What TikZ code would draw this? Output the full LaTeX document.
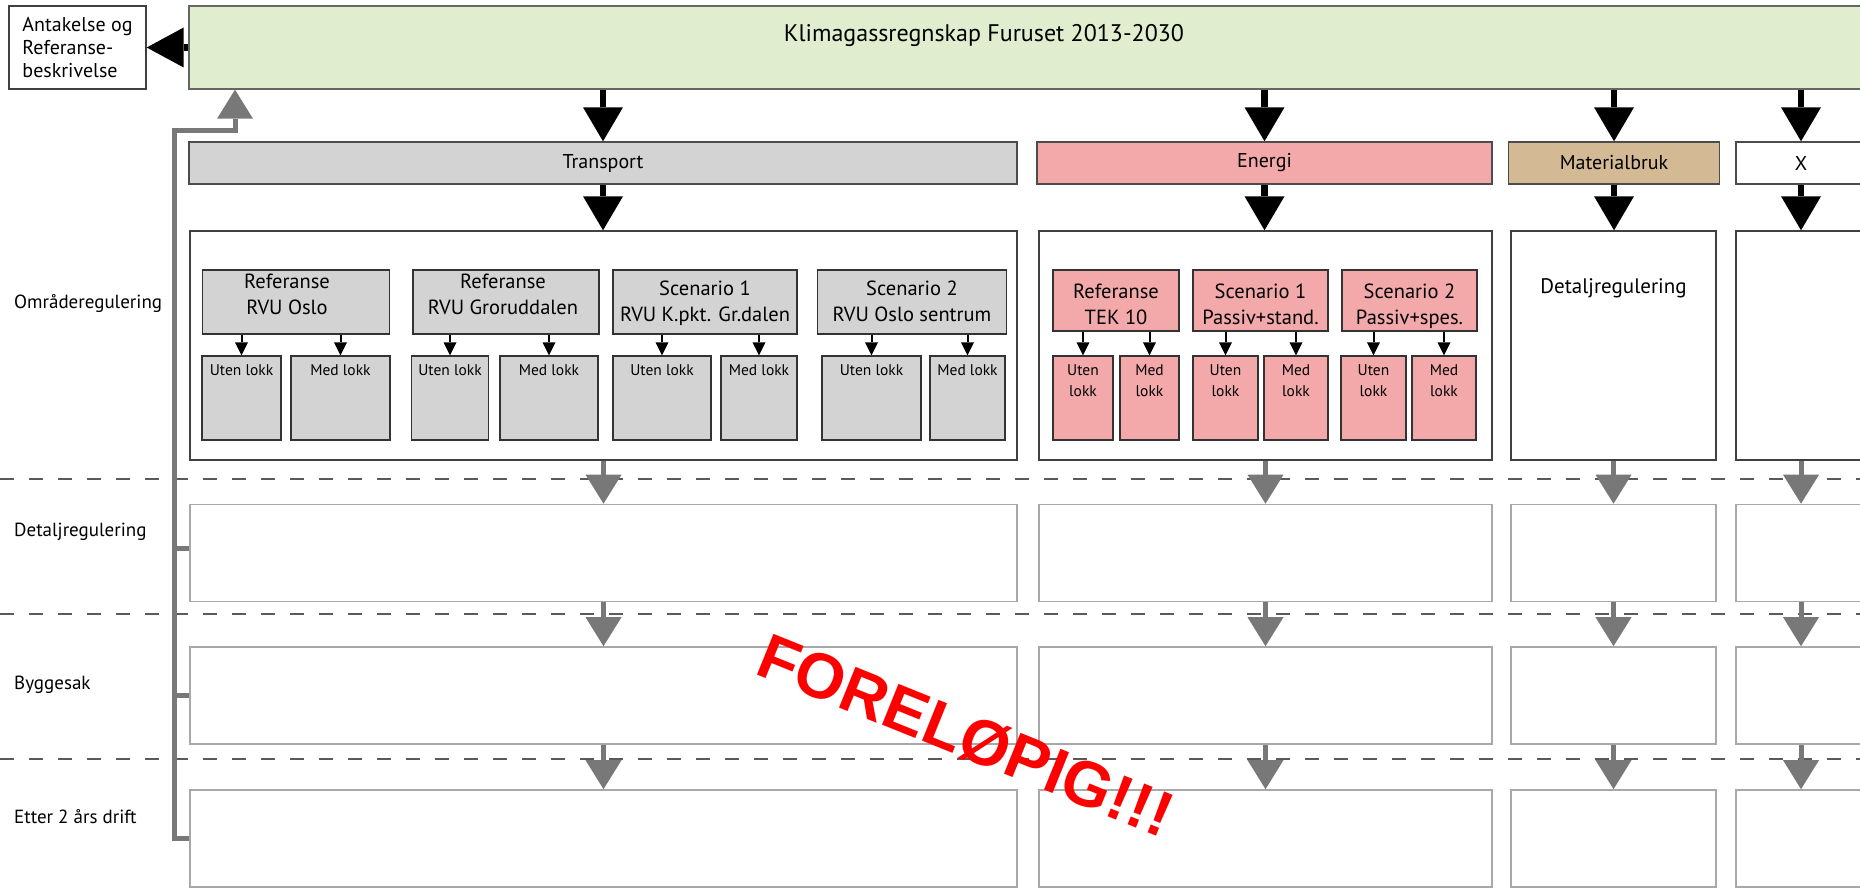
\documentclass[tikz,border=0pt]{standalone}
\usepackage{fontspec}
\setmainfont{PT Sans}
\newfontfamily\stampfont{Liberation Sans}
\usetikzlibrary{arrows.meta}

\definecolor{klimagreen}{HTML}{E0EDCF}
\definecolor{transgray}{HTML}{D3D3D3}
\definecolor{energipink}{HTML}{F3A9AA}
\definecolor{materialtan}{HTML}{D3B994}
\definecolor{flowgray}{HTML}{787878}
\definecolor{rowgray}{HTML}{A8A8A8}
\definecolor{dashgray}{HTML}{5A5A5A}

\tikzset{
  info box/.style={
    draw=black!75, line width=1.4pt, inner sep=0pt,
    minimum width=137pt, minimum height=83pt,
    align=left, font=\fontsize{20}{23}\selectfont,
  },
  title box/.style={
    draw=black!60, line width=1.4pt, fill=klimagreen, inner sep=0pt,
    minimum height=83pt,
  },
  head box/.style={
    draw=black!70, line width=1.4pt, inner sep=0pt,
    minimum height=42pt, font=\fontsize{20}{22}\selectfont,
  },
  col box/.style={
    draw=black!75, line width=1.4pt, inner sep=0pt, minimum height=229pt,
  },
  row box/.style={
    draw=rowgray, line width=1.6pt, inner sep=0pt, minimum height=97pt,
  },
  case box/.style={
    draw=black!80, line width=1.4pt, fill=#1, inner sep=0pt,
  },
  case text/.style={
    inner sep=0pt, align=center, anchor=north,
    font=\fontsize{20.5}{26}\selectfont,
  },
  lokk text/.style={
    inner sep=0pt, align=center, font=\fontsize{15.5}{21}\selectfont,
  },
  phase label/.style={
    inner sep=0pt, anchor=west, font=\fontsize{19}{22}\selectfont,
  },
  phase line/.style={
    draw=dashgray, line width=2pt, dash pattern=on 14pt off 15pt,
  },
  down arrow/.style={
    line width=6.5pt, -{Triangle[width=40pt, length=34pt, line width=0pt]},
  },
  grey arrow/.style={
    draw=flowgray, line width=5pt,
    -{Triangle[width=36pt, length=29pt, line width=0pt]},
  },
  small arrow/.style={
    line width=2pt, -{Triangle[width=13pt, length=13pt, line width=0pt]},
  },
}

\begin{document}
\begin{tikzpicture}[x=1pt, y=-1pt]
      \useasboundingbox (0,0) rectangle (1860,888);
      \clip (0,0) rectangle (1860,888);

      % phase separators
      \draw[phase line] (0,479) -- (1860,479);
      \draw[phase line] (0,614) -- (1860,614);
      \draw[phase line] (0,759) -- (1860,759);

      \node[phase label] (omrLabel)   at (14,304) {Områderegulering};
      \node[phase label] (detLabel)   at (14,532) {Detaljregulering};
      \node[phase label] (byggLabel)  at (14,685) {Byggesak};
      \node[phase label] (etterLabel) at (14,817) {Etter 2 års drift};

      % top
      \node[info box] (antakelse) at (77.5,47.5) {Antakelse og\\Referanse-\\beskrivelse};
      \node[title box, minimum width=1690pt] (klima) at (1034,47.5) {};
      \node[inner sep=0pt, font=\fontsize{24}{28}\selectfont] (klimaTxt) at (984,36)
        {Klimagassregnskap Furuset 2013-2030};

      \node[head box, fill=transgray,   minimum width=828pt] (transport) at (603,163)    {Transport};
      \node[head box, fill=energipink,  minimum width=455pt] (energi)    at (1264.5,163) {Energi};
      \node[head box, fill=materialtan, minimum width=211pt] (material)  at (1614,163)   {Materialbruk};
      \node[head box, fill=white,       minimum width=130pt] (xhead)     at (1801,163)   {X};

      % omraaderegulering
      \node[col box, minimum width=827pt] (transOmr)  at (603.5,345.5)  {};
      \node[col box, minimum width=453pt] (energiOmr) at (1265.5,345.5) {};
      \node[col box, minimum width=205pt] (matOmr)    at (1613.5,345.5) {};
      \node[col box, minimum width=130pt] (xOmr)      at (1801,345.5)   {};
      \node[inner sep=0pt, font=\fontsize{21}{24}\selectfont] (matTxt) at (1613.5,288) {Detaljregulering};

      % detaljregulering, byggesak, drift
      \node[row box, minimum width=827pt] (detT)   at (603.5,553)  {};
      \node[row box, minimum width=453pt] (detE)   at (1265.5,553) {};
      \node[row box, minimum width=205pt] (detM)   at (1613.5,553) {};
      \node[row box, minimum width=130pt] (detX)   at (1801,553)   {};
      \node[row box, minimum width=827pt] (byggT)  at (603.5,695.5)  {};
      \node[row box, minimum width=453pt] (byggE)  at (1265.5,695.5) {};
      \node[row box, minimum width=205pt] (byggM)  at (1613.5,695.5) {};
      \node[row box, minimum width=130pt] (byggX)  at (1801,695.5)   {};
      \node[row box, minimum width=827pt] (etterT) at (603.5,838.5)  {};
      \node[row box, minimum width=453pt] (etterE) at (1265.5,838.5) {};
      \node[row box, minimum width=205pt] (etterM) at (1613.5,838.5) {};
      \node[row box, minimum width=130pt] (etterX) at (1801,838.5)   {};

      % transport cases
      \node[case box=transgray, minimum width=187.5pt, minimum height=64pt] (refOslo)     at (296,302) {};
      \node[case box=transgray, minimum width=186pt,   minimum height=64pt] (refGrorud)   at (506,302) {};
      \node[case box=transgray, minimum width=184pt,   minimum height=64pt] (scenKpkt)    at (705,302) {};
      \node[case box=transgray, minimum width=188.5pt, minimum height=64pt] (scenSentrum) at (912,302) {};
      \node[case text] (refOsloTxt)     at (287,274) {Referanse\\RVU Oslo};
      \node[case text] (refGrorudTxt)   at (503,274) {Referanse\\RVU Groruddalen};
      \node[case text] (scenKpktTxt)    at (705,280.5) {Scenario 1\\RVU K.pkt. Gr.dalen};
      \node[case text] (scenSentrumTxt) at (912,280.5) {Scenario 2\\RVU Oslo sentrum};

      \node[case box=transgray, minimum width=79pt, minimum height=84pt] (refOsloU)     at (241.5,398) {};
      \node[case box=transgray, minimum width=99pt, minimum height=84pt] (refOsloM)     at (340.5,398) {};
      \node[case box=transgray, minimum width=76.5pt, minimum height=84pt] (refGrorudU) at (450,398)   {};
      \node[case box=transgray, minimum width=98pt, minimum height=84pt] (refGrorudM)   at (549,398)   {};
      \node[case box=transgray, minimum width=98pt, minimum height=84pt] (scenKpktU)    at (662,398)   {};
      \node[case box=transgray, minimum width=76pt, minimum height=84pt] (scenKpktM)    at (759,398)   {};
      \node[case box=transgray, minimum width=99pt, minimum height=84pt] (scenSentrumU) at (871.5,398) {};
      \node[case box=transgray, minimum width=75pt, minimum height=84pt] (scenSentrumM) at (967.5,398) {};
      \node[lokk text, anchor=base] (refOsloUTxt)     at (241.5,375) {Uten lokk};
      \node[lokk text, anchor=base] (refOsloMTxt)     at (340.5,375) {Med lokk};
      \node[lokk text, anchor=base] (refGrorudUTxt)   at (450,375)   {Uten lokk};
      \node[lokk text, anchor=base] (refGrorudMTxt)   at (549,375)   {Med lokk};
      \node[lokk text, anchor=base] (scenKpktUTxt)    at (662,375)   {Uten lokk};
      \node[lokk text, anchor=base] (scenKpktMTxt)    at (759,375)   {Med lokk};
      \node[lokk text, anchor=base] (scenSentrumUTxt) at (871.5,375) {Uten lokk};
      \node[lokk text, anchor=base] (scenSentrumMTxt) at (967.5,375) {Med lokk};

      % energi cases
      \node[case box=energipink, minimum width=126pt, minimum height=61pt] (refTek)    at (1116,300.5)   {};
      \node[case box=energipink, minimum width=135pt, minimum height=61pt] (scenStand) at (1260.5,300.5) {};
      \node[case box=energipink, minimum width=135pt, minimum height=61pt] (scenSpes)  at (1409.5,300.5) {};
      \node[case text] (refTekTxt)    at (1116,284)   {Referanse\\TEK 10};
      \node[case text] (scenStandTxt) at (1260.5,284) {Scenario 1\\Passiv+stand.};
      \node[case text] (scenSpesTxt)  at (1409.5,284) {Scenario 2\\Passiv+spes.};

      \node[case box=energipink, minimum width=60pt, minimum height=84pt] (refTekU)    at (1083,398)   {};
      \node[case box=energipink, minimum width=59pt, minimum height=84pt] (refTekM)    at (1149.5,398) {};
      \node[case box=energipink, minimum width=65pt, minimum height=84pt] (scenStandU) at (1225.5,398) {};
      \node[case box=energipink, minimum width=64pt, minimum height=84pt] (scenStandM) at (1296,398)   {};
      \node[case box=energipink, minimum width=65pt, minimum height=84pt] (scenSpesU)  at (1373.5,398) {};
      \node[case box=energipink, minimum width=64pt, minimum height=84pt] (scenSpesM)  at (1444,398)   {};
      \node[lokk text, anchor=north] (refTekUTxt)    at (1083,364)   {Uten\\lokk};
      \node[lokk text, anchor=north] (refTekMTxt)    at (1149.5,364) {Med\\lokk};
      \node[lokk text, anchor=north] (scenStandUTxt) at (1225.5,364) {Uten\\lokk};
      \node[lokk text, anchor=north] (scenStandMTxt) at (1296,364)   {Med\\lokk};
      \node[lokk text, anchor=north] (scenSpesUTxt)  at (1373.5,364) {Uten\\lokk};
      \node[lokk text, anchor=north] (scenSpesMTxt)  at (1444,364)   {Med\\lokk};

      % small arrows
      \draw[small arrow] (refOsloU.north |- refOslo.south)         -- (refOsloU.north);
      \draw[small arrow] (refOsloM.north |- refOslo.south)         -- (refOsloM.north);
      \draw[small arrow] (refGrorudU.north |- refGrorud.south)     -- (refGrorudU.north);
      \draw[small arrow] (refGrorudM.north |- refGrorud.south)     -- (refGrorudM.north);
      \draw[small arrow] (scenKpktU.north |- scenKpkt.south)       -- (scenKpktU.north);
      \draw[small arrow] (scenKpktM.north |- scenKpkt.south)       -- (scenKpktM.north);
      \draw[small arrow] (scenSentrumU.north |- scenSentrum.south) -- (scenSentrumU.north);
      \draw[small arrow] (scenSentrumM.north |- scenSentrum.south) -- (scenSentrumM.north);
      \draw[small arrow] (refTekU.north |- refTek.south)           -- (refTekU.north);
      \draw[small arrow] (refTekM.north |- refTek.south)           -- (refTekM.north);
      \draw[small arrow] (scenStandU.north |- scenStand.south)     -- (scenStandU.north);
      \draw[small arrow] (scenStandM.north |- scenStand.south)     -- (scenStandM.north);
      \draw[small arrow] (scenSpesU.north |- scenSpes.south)       -- (scenSpesU.north);
      \draw[small arrow] (scenSpesM.north |- scenSpes.south)       -- (scenSpesM.north);

      % black arrows
      \draw[line width=6.5pt, -{Triangle[width=40pt, length=37pt, line width=0pt]}]
        (klima.west) -- (antakelse.east);
      \draw[down arrow] (klima.south -| transport.north) -- (transport.north);
      \draw[down arrow] (klima.south -| energi.north)    -- (energi.north);
      \draw[down arrow] (klima.south -| material.north)  -- (material.north);
      \draw[down arrow] (klima.south -| xhead.north)     -- (xhead.north);
      \draw[down arrow] (transport.south) -- (transport.south |- transOmr.north);
      \draw[down arrow] (energi.south)    -- (energi.south |- energiOmr.north);
      \draw[down arrow] (material.south)  -- (material.south |- matOmr.north);
      \draw[down arrow] (xhead.south)     -- (xhead.south |- xOmr.north);

      % grey arrows
      \draw[grey arrow] (transOmr.south)  -- (detT.north);
      \draw[grey arrow] (energiOmr.south) -- (detE.north);
      \draw[grey arrow] (matOmr.south)    -- (detM.north);
      \draw[grey arrow] (xOmr.south)      -- (detX.north);
      \draw[grey arrow] (detT.south)  -- (byggT.north);
      \draw[grey arrow] (detE.south)  -- (byggE.north);
      \draw[grey arrow] (detM.south)  -- (byggM.north);
      \draw[grey arrow] (detX.south)  -- (byggX.north);
      \draw[grey arrow] (byggT.south) -- (etterT.north);
      \draw[grey arrow] (byggE.south) -- (etterE.north);
      \draw[grey arrow] (byggM.south) -- (etterM.north);
      \draw[grey arrow] (byggX.south) -- (etterX.north);

      % feedback to the top
      \coordinate (fbcorner) at (174,131);
      \coordinate (fbbend)   at (235,131);
      \draw[grey arrow] (etterT.west) -| (fbcorner) -- (fbbend) -- (fbbend |- klima.south);
      \draw[draw=flowgray, line width=5pt] ([yshift=5pt]detT.west) -- ([yshift=5pt]detT.west -| fbcorner);
      \draw[draw=flowgray, line width=5pt] (byggT.west) -- (byggT.west -| fbcorner);

      \node[inner sep=0pt, anchor=base west, rotate=-22, text=red,
            font=\stampfont\bfseries\fontsize{64}{70}\selectfont] (stamp) at (753,673) {FORELØPIG!!!};
\end{tikzpicture}
\end{document}
